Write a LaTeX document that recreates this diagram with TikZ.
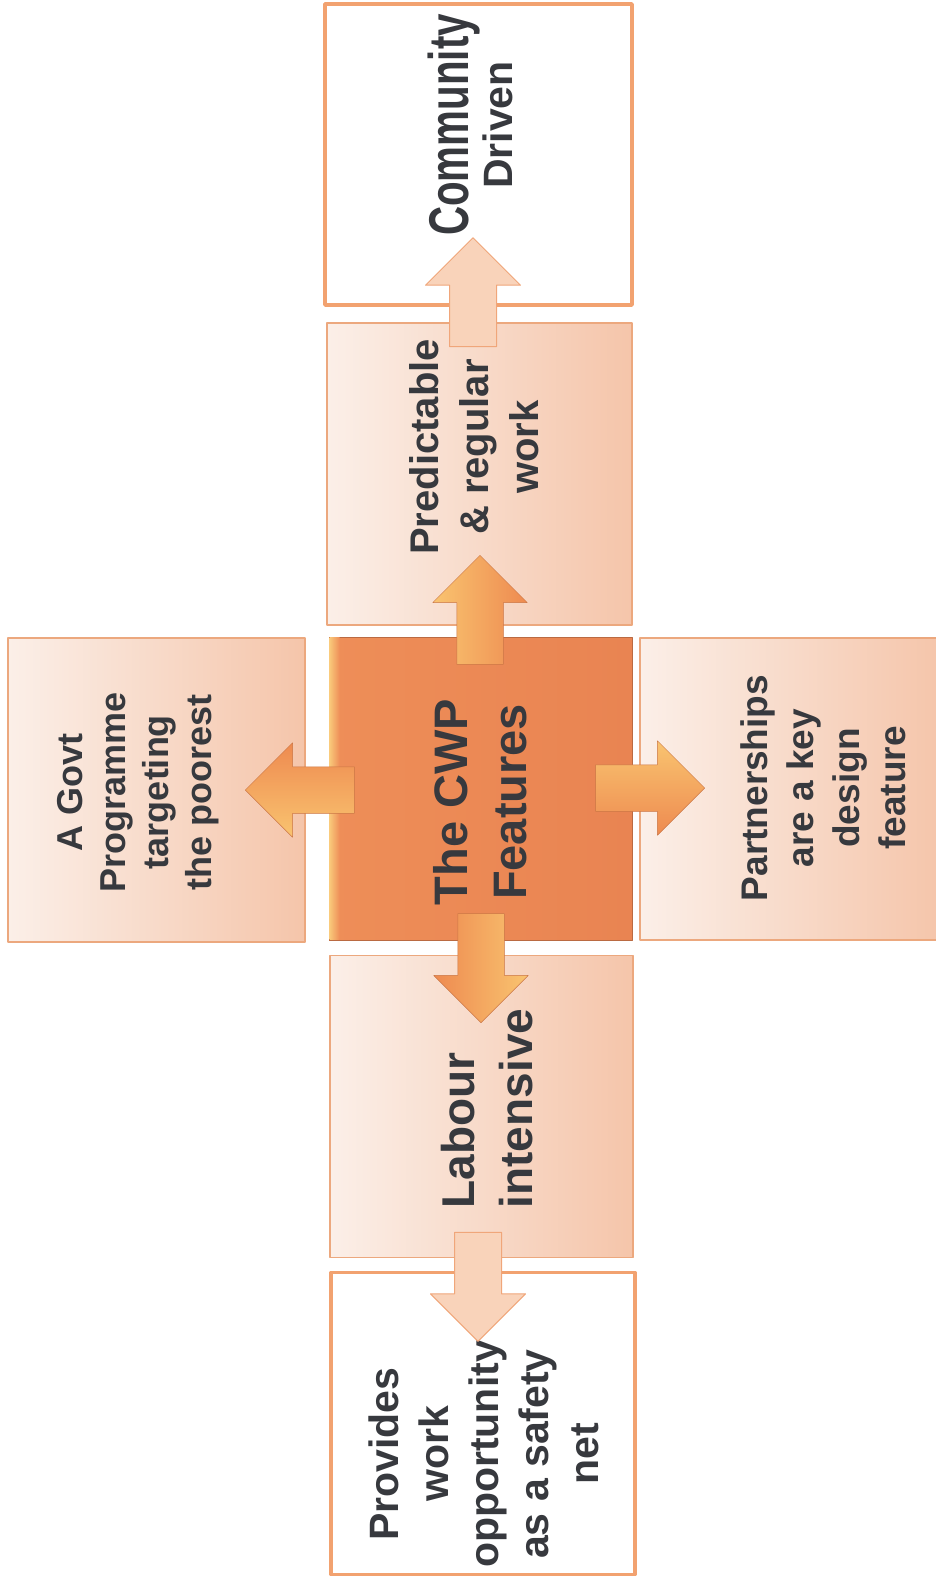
\documentclass[tikz,border=0pt]{standalone}
\usepackage{fontspec}
\setmainfont{Liberation Sans}
\usetikzlibrary{shapes.arrows}

\definecolor{ink}{RGB}{55,57,62}
\definecolor{boxline}{RGB}{242,162,112}
\definecolor{peachline}{RGB}{236,168,126}
\definecolor{peachlight}{RGB}{251,239,232}
\definecolor{peachdark}{RGB}{245,197,170}
\definecolor{hubfill}{RGB}{238,142,88}
\definecolor{hubdark}{RGB}{233,132,82}
\definecolor{bevel}{RGB}{249,200,122}
\definecolor{arrowfill}{RGB}{238,138,80}
\definecolor{arrowhigh}{RGB}{249,196,112}
\definecolor{softfill}{RGB}{249,211,186}
\definecolor{softedge}{RGB}{240,166,122}

\begin{document}
\begin{tikzpicture}[line cap=round,line join=round,x=1pt,y=-1pt,
  plainbox/.style={draw=boxline,line width=3.5pt,fill=white,minimum width=304pt,minimum height=302pt,inner sep=0pt},
  peachbox/.style={draw=peachline,line width=1.2pt,left color=peachlight,right color=peachdark,minimum width=303pt,minimum height=302pt,inner sep=0pt},
  hubbox/.style={draw=hubdark!80!black,line width=0.8pt,left color=hubfill,right color=hubdark,minimum width=303pt,minimum height=303pt,inner sep=0pt},
  blockarrow/.style={single arrow,anchor=tip,inner sep=23pt,minimum height=109pt,single arrow head extend=24pt},
  hotarrow/.style={blockarrow,draw=arrowfill!85!black,line width=0.5pt},
  softarrow/.style={blockarrow,draw=softedge,line width=1pt,fill=softfill},
  caption/.style={rotate=90,align=center,text=ink,inner sep=0pt}]
\useasboundingbox (0,0) rectangle (936,1583);
\clip (0,0) rectangle (936,1583);
% the boxes
\node[plainbox,minimum width=307pt,minimum height=301pt] (comm) at (478.5,154.5) {};
\node[peachbox,minimum width=305pt] (pred) at (479.5,474) {};
\node[hubbox] (cwp) at (480.5,788.5) {};
\fill[left color=bevel,right color=hubfill] ([xshift=1pt,yshift=-1pt]cwp.north west) rectangle ([xshift=11pt,yshift=1pt]cwp.south west);
\node[peachbox,minimum width=297pt,minimum height=304pt] (govt) at (156.5,790) {};
\node[peachbox,minimum width=302pt] (part) at (791,789) {};
\node[peachbox] (lab) at (481.5,1106.5) {};
\node[plainbox] (prov) at (483,1423.5) {};
% the texts
\node[caption,font=\bfseries\fontsize{41}{44}\selectfont] (comm-t) at (470,125) {\scalebox{0.72}[1]{\fontsize{56}{44}\selectfont Community}\\Driven};
\node[caption,font=\bfseries\fontsize{40}{50}\selectfont] (pred-t) at (474,447) {Predictable\\\& regular\\work};
\node[caption,font=\bfseries\fontsize{47}{59}\selectfont] (cwp-t) at (480,802) {The CWP\\Features};
\node[caption,font=\bfseries\fontsize{36}{43}\selectfont] (govt-t) at (138,792) {A Govt\\Programme\\targeting\\the poorest};
\node[caption,font=\bfseries\fontsize{37}{46}\selectfont] (part-t) at (823,788) {Partnerships\\are a key\\design\\feature};
\node[caption,align=left,font=\bfseries\fontsize{46}{58}\selectfont] (lab-t) at (487.5,1108.5) {Labour\\intensive};
\node[caption,font=\bfseries\fontsize{41}{50}\selectfont] (prov-t) at (484,1454) {Provides\\work\\opportunity\\as a safety\\net};
% the arrows, placed by their tips
\node[softarrow,shape border rotate=90] (up-comm) at (473,237) {};
\node[hotarrow,shape border rotate=90,left color=arrowhigh,right color=arrowfill] (up-pred) at (480,555) {};
\node[hotarrow,shape border rotate=180,bottom color=arrowhigh,top color=arrowfill] (to-govt) at (245,790) {};
\node[hotarrow,top color=arrowhigh,bottom color=arrowfill] (to-part) at (705,788) {};
\node[hotarrow,shape border rotate=270,right color=arrowhigh,left color=arrowfill] (down-lab) at (481,1023) {};
\node[softarrow,shape border rotate=270] (down-prov) at (478,1342) {};
\end{tikzpicture}
\end{document}
